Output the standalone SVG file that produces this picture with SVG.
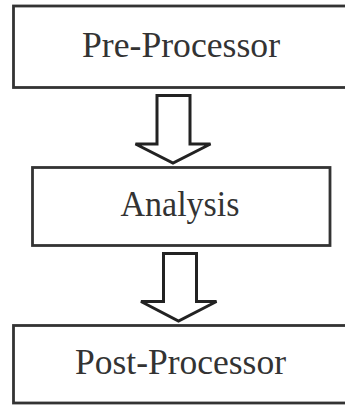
<svg xmlns="http://www.w3.org/2000/svg" width="345" height="409" viewBox="0 0 345 409">
  <style>
    .box { fill: #ffffff; stroke: #333333; stroke-width: 2.8; }
    .label { font-family: "Liberation Serif", "DejaVu Serif", serif; font-size: 36px; fill: #333333; text-anchor: middle; }
    .flow { fill: #ffffff; stroke: #222222; stroke-width: 3; stroke-linejoin: miter; }
  </style>
  <rect width="345" height="409" fill="#ffffff"/>

  <g id="pre-processor">
    <rect class="box" x="13.5" y="6" width="340" height="81.5"/>
    <text class="label" x="181" y="57" textLength="198" lengthAdjust="spacingAndGlyphs">Pre-Processor</text>
  </g>

  <g id="analysis">
    <rect class="box" x="32.5" y="167.5" width="297.5" height="78"/>
    <text class="label" x="180" y="216" textLength="119" lengthAdjust="spacingAndGlyphs">Analysis</text>
  </g>

  <g id="post-processor">
    <rect class="box" x="13.5" y="325.5" width="340" height="77.5"/>
    <text class="label" x="180.5" y="374" textLength="211" lengthAdjust="spacingAndGlyphs">Post-Processor</text>
  </g>

  <g id="connectors">
    <polygon class="flow" points="157,95.5 190,95.5 190,144 210.5,144 173,163 135.5,144 157,144"/>
    <polygon class="flow" points="163.5,253.5 196.5,253.5 196.5,301.5 216.5,301.5 178.5,321 141,301.5 163.5,301.5"/>
  </g>
</svg>
